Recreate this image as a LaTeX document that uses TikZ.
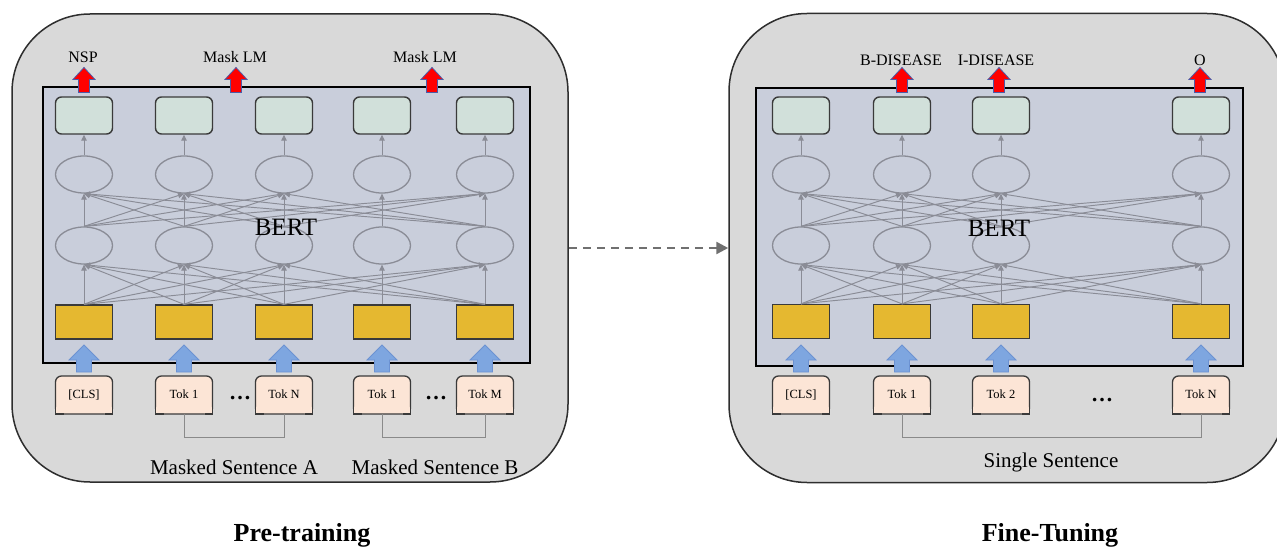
\documentclass[tikz,border=0pt]{standalone}
\usepackage{fontspec}
\setmainfont{Liberation Serif}
\usetikzlibrary{arrows.meta,shapes.geometric}

\definecolor{panelfill}{HTML}{D9D9D9}
\definecolor{panelline}{HTML}{2E2E2E}
\definecolor{bertfill}{HTML}{C9CEDB}
\definecolor{outfill}{HTML}{D1E0DA}
\definecolor{boxline}{HTML}{3A3A3A}
\definecolor{embfill}{HTML}{E5B830}
\definecolor{tokfill}{HTML}{FCE5D6}
\definecolor{netline}{HTML}{8A8C96}
\definecolor{brackline}{HTML}{8A8A8A}
\definecolor{inblue}{HTML}{7EA6E0}
\definecolor{inblueline}{HTML}{6C92D2}
\definecolor{outred}{HTML}{FF0000}
\definecolor{outredline}{HTML}{4E5AA6}
\definecolor{flowgray}{HTML}{707070}

\tikzset{
  inarrow/.pic={\filldraw[fill=inblue, draw=inblueline, line width=0.8pt]
    (-7.5,0) -- (-7.5,-12) -- (-15,-12) -- (0,-27) -- (15,-12) -- (7.5,-12) -- (7.5,0) -- cycle;},
  outarrow/.pic={\filldraw[fill=outred, draw=outredline, line width=0.8pt]
    (-5.5,0) -- (-5.5,-13) -- (-11,-13) -- (0,-25) -- (11,-13) -- (5.5,-13) -- (5.5,0) -- cycle;}
}

\begin{document}
\begin{tikzpicture}[x=1pt,y=-1pt,
  panel/.style={draw=panelline, fill=panelfill, line width=1.5pt, rounded corners=78pt,
    minimum width=556pt, inner sep=0pt},
  bertbox/.style={draw=black, fill=bertfill, line width=2pt, minimum width=487pt, inner sep=0pt},
  outbox/.style={draw=boxline, fill=outfill, line width=1.4pt, rounded corners=6pt,
    minimum width=57pt, minimum height=37pt, inner sep=0pt},
  hidden/.style={ellipse, draw=netline, line width=1.3pt, minimum width=57pt,
    minimum height=37pt, inner sep=0pt},
  embbox/.style={draw=boxline, fill=embfill, line width=1.3pt, minimum width=57pt,
    minimum height=34pt, inner sep=0pt},
  tokbox/.style={draw=boxline, fill=tokfill, line width=1.3pt, rounded corners=6pt,
    minimum width=57pt, minimum height=38pt, inner sep=0pt, outer sep=0pt,
    font=\fontsize{12.5}{14}\selectfont, text height=8.5pt, text depth=2.5pt},
  tokcorner/.style={draw=boxline, fill=tokfill, line width=1.3pt, sharp corners},
  conn/.style={draw=netline, line width=0.95pt, -{Triangle[length=6pt,width=5.5pt]}},
  bracket/.style={draw=brackline, line width=1pt},
  flow/.style={draw=flowgray, line width=2.5pt, dash pattern=on 8pt off 6pt,
    -{Triangle[length=12pt,width=12pt]}},
  toplabel/.style={font=\fontsize{16}{19}\selectfont, inner sep=0pt, anchor=base},
  sentlabel/.style={font=\fontsize{21}{25}\selectfont, inner sep=0pt, anchor=base},
  titlelabel/.style={font=\fontsize{26}{30}\selectfont\bfseries, inner sep=0pt, anchor=base},
  bertlabel/.style={font=\fontsize{25}{30}\selectfont, inner sep=0pt},
  dotslabel/.style={font=\fontsize{22}{26}\selectfont\bfseries, inner sep=0pt, anchor=base}
]
\useasboundingbox (0,0) rectangle (1277,548);
\clip (0,0) rectangle (1277,548);

% ---------- outer panels ----------
\node[panel, minimum height=468pt] (lpanel) at (290,248) {};
\node[panel, minimum height=469pt] (rpanel) at (1007,248) {};

% ---------- BERT encoder boxes ----------
\node[bertbox, minimum height=276pt] (lbert) at (286.5,225) {};
\node[bertbox, minimum height=278pt] (rbert) at (999.5,227) {};

% ---------- pre-training network ----------
\foreach \i/\x in {1/84,2/184,3/284,4/382,5/485} {
  \node[outbox] (Lg\i) at (\x,115.5) {};
  \node[hidden] (Lb\i) at (\x,174.5) {};
  \node[hidden] (La\i) at (\x,245.5) {};
  \node[embbox] (Ly\i) at (\x,322) {};
  \draw[conn] (Lb\i.north) -- (Lg\i.south);
}
\foreach \i in {1,2,3,5} {
  \foreach \j in {1,2,3,5} {
    \draw[conn] (Ly\i.north) -- (La\j.south);
    \draw[conn] (La\i.north) -- (Lb\j.south);
  }
}
\draw[conn] (Ly4.north) -- (La4.south);
\draw[conn] (La4.north) -- (Lb4.south);

\node[tokbox] (Lt1) at (84,395) {[CLS]};
\node[tokbox] (Lt2) at (184,395) {Tok 1};
\node[tokbox] (Lt3) at (284,395) {Tok N};
\node[tokbox] (Lt4) at (382,395) {Tok 1};
\node[tokbox] (Lt5) at (485,395) {Tok M};

\foreach \x in {84,184,284,382,485} { \pic at (\x,372) {inarrow}; }
\foreach \x in {84,236,432} { \pic at (\x,92.5) {outarrow}; }

\node[toplabel] (lnsp) at (83,63) {NSP};
\node[toplabel] (lmlm1) at (235,63) {Mask LM};
\node[toplabel] (lmlm2) at (425,63) {Mask LM};

\node[dotslabel] (ldots1) at (240,399.5) {\dots};
\node[dotslabel] (ldots2) at (436,399.5) {\dots};

\draw[bracket] (Lt2.south) -- ++(0,23) -| (Lt3.south);
\draw[bracket] (Lt4.south) -- ++(0,23) -| (Lt5.south);

\node[sentlabel] (lsentA) at (234,474) {Masked Sentence A};
\node[sentlabel] (lsentB) at (435,474) {Masked Sentence B};

\node[bertlabel] (lbertname) at (286,227) {BERT};

% ---------- fine-tuning network ----------
\foreach \i/\x in {1/801,2/902,3/1001,4/1201} {
  \node[outbox] (Rg\i) at (\x,115.5) {};
  \node[hidden] (Rb\i) at (\x,174.5) {};
  \node[hidden] (Ra\i) at (\x,245.5) {};
  \node[embbox] (Ry\i) at (\x,321.5) {};
  \draw[conn] (Rb\i.north) -- (Rg\i.south);
}
\foreach \i in {1,2,3,4} {
  \foreach \j in {1,2,3,4} {
    \draw[conn] (Ry\i.north) -- (Ra\j.south);
    \draw[conn] (Ra\i.north) -- (Rb\j.south);
  }
}

\node[tokbox] (Rt1) at (801,395) {[CLS]};
\node[tokbox] (Rt2) at (902,395) {Tok 1};
\node[tokbox] (Rt3) at (1001,395) {Tok 2};
\node[tokbox] (Rt4) at (1201,395) {Tok N};

\foreach \x in {801,902,1001,1201} { \pic at (\x,372) {inarrow}; }
\foreach \x in {902,999,1200} { \pic at (\x,92.5) {outarrow}; }

\node[toplabel] (rbdis) at (901,65.5) {B-DISEASE};
\node[toplabel] (ridis) at (996,65.5) {I-DISEASE};
\node[toplabel] (rout) at (1200,65.5) {O};

\node[dotslabel] (rdots) at (1102,401.5) {\dots};

\draw[bracket] (Rt2.south) -- ++(0,23) -| (Rt4.south);

\node[sentlabel] (rsent) at (1051,467.5) {Single Sentence};

\node[bertlabel] (rbertname) at (999,228) {BERT};

% square lower corners of the token boxes
\foreach \t in {Lt1,Lt2,Lt3,Lt4,Lt5,Rt1,Rt2,Rt3,Rt4} {
  \filldraw[tokcorner] ([yshift=8pt]\t.south west) -- (\t.south west) -- ([xshift=8pt]\t.south west);
  \filldraw[tokcorner] ([yshift=8pt]\t.south east) -- (\t.south east) -- ([xshift=-8pt]\t.south east);
}

% ---------- transfer arrow and captions ----------
\draw[flow] (lpanel.east) -- (rpanel.west);

\node[titlelabel] (pretrain) at (302,541) {Pre-training};
\node[titlelabel] (finetune) at (1050,541) {Fine-Tuning};
\end{tikzpicture}
\end{document}
